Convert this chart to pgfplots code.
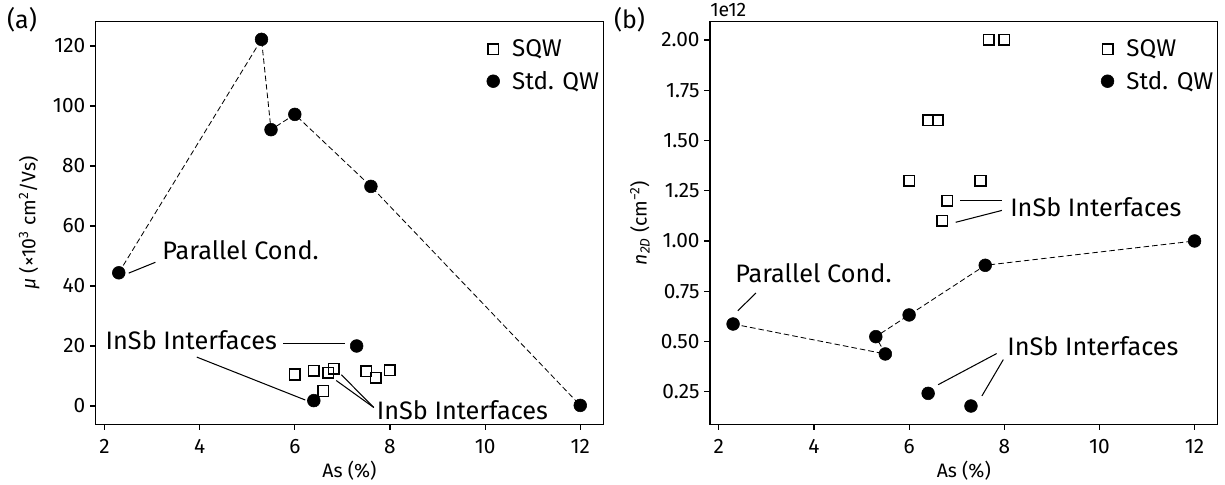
\documentclass[border=0pt]{standalone}
\usepackage{fontspec}
\setmainfont{Fira Sans}
\usepackage{pgfplots}
\usepackage{pgfplotstable}
\pgfplotsset{compat=1.18}

% ---------- panel (a) data ----------
\pgfplotstableread{
x y
6.00 10.5
6.40 11.8
6.60 5.0
6.70 11.1
6.82 12.4
7.50 11.6
7.70 9.4
8.00 11.9
}\sqwa
\pgfplotstableread{
x y
2.3 44.4
5.3 122.2
5.5 92.1
6.0 97.2
7.6 73.2
12.0 0.2
7.3 20.0
6.4 1.8
}\stda
\pgfplotstableread{
x y
2.3 44.4
5.3 122.2
5.5 92.1
6.0 97.2
7.6 73.2
12.0 0.2
}\chaina
% ---------- panel (b) data ----------
\pgfplotstableread{
x y
7.67 2.00
8.00 2.00
6.40 1.60
6.60 1.60
6.00 1.30
7.50 1.30
6.80 1.20
6.70 1.10
}\sqwb
\pgfplotstableread{
x y
2.3 0.587
5.5 0.438
5.3 0.524
6.0 0.632
7.6 0.879
12.0 1.000
6.4 0.242
7.3 0.179
}\stdb
\pgfplotstableread{
x y
2.3 0.587
5.5 0.438
5.3 0.524
6.0 0.632
7.6 0.879
12.0 1.000
}\chainb

\newcommand{\annfont}{\fontsize{18.2bp}{21bp}\selectfont}
\newcommand{\legfont}{\fontsize{17.4bp}{20bp}\selectfont}
\newcommand{\tickfont}{\fontsize{15bp}{17bp}\selectfont}
\newcommand{\labfont}{\fontsize{14bp}{16bp}\selectfont}

\tikzset{ann/.style={black, line width=0.75bp}}

\pgfplotsset{
  myaxis/.style={
    width=365.5bp, height=289.9bp, scale only axis,
    xmin=1.815, xmax=12.485,
    xtick={2,4,6,8,10,12},
    tick align=outside, xtick pos=left, ytick pos=left,
    major tick length=4bp,
    tick style={black, line width=0.8bp},
    axis line style={line width=0.8bp},
    tick label style={font=\tickfont},
    xticklabel style={yshift=-3bp},
    label style={font=\labfont},
    /pgf/number format/assume math mode=true,
    xlabel={As (\%)},
    xlabel style={at={(axis description cs:0.5,-0.115)}, anchor=center},
    legend style={draw=none, fill=none, font=\legfont, at={(0.77,0.963)}, anchor=north west, inner sep=0pt, row sep=5bp,
      /tikz/every odd column/.style={column sep=7bp}},
    legend cell align=left,
    legend image code/.code={\draw[#1,only marks] plot coordinates {(0cm,0cm)};},
    clip=false,
  },
  sqw/.style={only marks, mark=square, mark size=3.8bp, mark options={draw=black, fill=none, line width=1.1bp}},
  std/.style={only marks, mark=*, mark size=4.6bp, mark options={draw=black, fill=black}},
  chain/.style={no markers, black, line width=0.6bp, dash pattern=on 4bp off 2.2bp, forget plot},
}

\begin{document}
\begin{tikzpicture}
% ================= (a) =================
\begin{axis}[myaxis, at={(0,0)}, anchor=south west,
  ymin=-6.1, ymax=128.1, ytick={0,20,40,60,80,100,120},
  ylabel={\textit{μ} (×10\textsuperscript{3} cm\textsuperscript{2}/Vs)},
  ylabel style={at={(axis description cs:-0.131,0.5)}, anchor=center}]
\addplot[chain] table[x=x,y=y] {\chaina};
\addplot[sqw] table[x=x,y=y] {\sqwa};
\addplot[std] table[x=x,y=y] {\stda};
\legend{SQW, Std. QW}
\node[anchor=base west, font=\annfont, inner sep=0pt] at (axis cs:3.21,48.8) {Parallel Cond.};
\draw[ann] (axis cs:2.51,44.3) -- (axis cs:3.07,47.9);
\node[anchor=base west, font=\annfont, inner sep=0pt] at (axis cs:2.02,18.9) {InSb Interfaces};
\draw[ann] (axis cs:5.76,20.7) -- (axis cs:7.06,20.7);
\draw[ann] (axis cs:3.94,16.3) -- (axis cs:6.22,2.0);
\node[anchor=base west, font=\annfont, inner sep=0pt] at (axis cs:7.72,-4.5) {InSb Interfaces};
\draw[ann] (axis cs:7.66,-0.5) -- (axis cs:6.98,10.4);
\draw[ann] (axis cs:7.66,-0.5) -- (axis cs:6.87,8.5);
\end{axis}
% ================= (b) =================
\begin{axis}[myaxis, at={(442.3bp,0)}, anchor=south west,
  ymin=0.088, ymax=2.091, ytick={0.25,0.5,0.75,1.0,1.25,1.5,1.75,2.0},
  yticklabel style={/pgf/number format/fixed, /pgf/number format/fixed zerofill, /pgf/number format/precision=2},
  ylabel={\textit{n}\textsubscript{\textit{2D}} (cm\textsuperscript{−2})},
  ylabel style={at={(axis description cs:-0.138,0.5)}, anchor=center}]
\addplot[chain] table[x=x,y=y] {\chainb};
\addplot[sqw] table[x=x,y=y] {\sqwb};
\addplot[std] table[x=x,y=y] {\stdb};
\legend{SQW, Std. QW}
\node[anchor=base west, font=\labfont, inner sep=0pt] at (rel axis cs:0,1) [yshift=3.6bp] {1e12};
\node[anchor=base west, font=\annfont, inner sep=0pt] at (axis cs:2.34,0.795) {Parallel Cond.};
\draw[ann] (axis cs:2.40,0.653) -- (axis cs:2.78,0.741);
\node[anchor=base west, font=\annfont, inner sep=0pt] at (axis cs:8.12,1.123) {InSb Interfaces};
\draw[ann] (axis cs:7.07,1.20) -- (axis cs:7.95,1.20);
\draw[ann] (axis cs:6.98,1.093) -- (axis cs:7.95,1.152);
\node[anchor=base west, font=\annfont, inner sep=0pt] at (axis cs:8.06,0.430) {InSb Interfaces};
\draw[ann] (axis cs:6.61,0.285) -- (axis cs:7.84,0.44);
\draw[ann] (axis cs:7.53,0.229) -- (axis cs:7.98,0.41);
\end{axis}
\node[anchor=base west, font=\fontsize{18bp}{20bp}\selectfont, inner sep=0pt] at (-64bp,284.7bp) {(a)};
\node[anchor=base west, font=\fontsize{18bp}{20bp}\selectfont, inner sep=0pt] at (373bp,284.7bp) {(b)};
\pgfresetboundingbox
\path[use as bounding box] (-68.9bp,-43.0bp) rectangle (813.1bp,305.5bp);
\end{tikzpicture}
\end{document}
